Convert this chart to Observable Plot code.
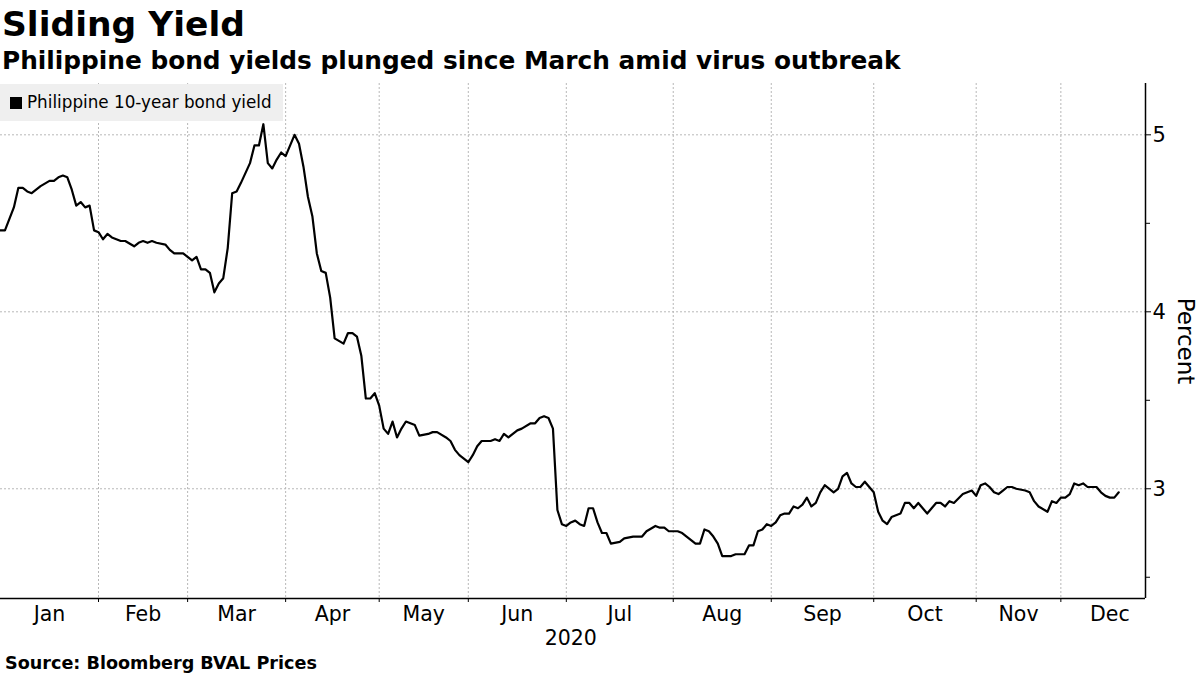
<!DOCTYPE html>
<html>
<head>
<meta charset="utf-8">
<script src="https://cdn.jsdelivr.net/npm/d3@7"></script>
<script src="https://cdn.jsdelivr.net/npm/@observablehq/plot@0.6"></script>
<style>
  html, body { margin: 0; padding: 0; background: #fff; }
  body { width: 1200px; height: 675px; position: relative; overflow: hidden;
         font-family: "DejaVu Sans", sans-serif; color: #000; }
  #title { position: absolute; left: 2px; top: 4px; font-size: 34.5px; font-weight: bold; line-height: 40px; white-space: nowrap; }
  #subtitle { position: absolute; left: 2px; top: 46px; font-size: 24.8px; font-weight: bold; line-height: 30px; white-space: nowrap; }
  #chart { position: absolute; left: 0; top: 78px; }
  #legend { position: absolute; left: 0; top: 84px; width: 283px; height: 37px; background: #efefef;
            font-size: 16.8px; line-height: 37px; white-space: nowrap; }
  #legend .sw { display: inline-block; width: 12px; height: 12px; background: #000; margin: 0 5px 0 10px; vertical-align: -1px; }
  #source { position: absolute; left: 5px; top: 652px; font-size: 17.6px; font-weight: bold; line-height: 22px; white-space: nowrap; }
</style>
</head>
<body>
<div id="title">Sliding Yield</div>
<div id="subtitle">Philippine bond yields plunged since March amid virus outbreak</div>
<div id="chart"></div>
<div id="legend"><span class="sw"></span>Philippine 10-year bond yield</div>
<div id="source">Source: Bloomberg BVAL Prices</div>
<script>
// Trading-session index (0 = first session of 2020) and yield in percent
const session = [0,1,3,4,5,6,7,8,9,11,12,13,14,15,16,17,18,19,20,21,22,23,24,25,26,27,28,30,31,32,33,34,35,37,38,39,41,
  42,43,44,45,46,47,48,49,50,51,52,53,54,56,57,58,59,60,61,62,63,64,66,67,68,69,70,71,72,73,74,75,77,78,79,80,81,82,83,84,
  85,86,87,88,89,90,91,93,94,96,97,98,100,101,102,103,105,106,107,108,110,111,112,113,114,116,117,119,120,121,122,123,124,
  125,126,127,128,129,130,131,132,133,134,135,136,137,139,140,142,144,145,147,148,149,150,152,153,154,155,156,157,158,159,
  160,161,162,164,165,167,168,169,170,171,172,173,174,175,176,177,178,179,180,181,182,183,184,185,187,188,189,190,191,192,
  193,194,195,196,197,198,199,200,201,202,203,204,205,206,207,208,209,210,211,212,213,214,216,217,218,219,220,221,222,223,
  224,225,226,227,228,230,231,232,233,235,236,237,238,239,240,241,242,243,244,245,246,247,248,249,250,251];
const yieldPct = [4.46,4.46,4.59,4.70,4.70,4.68,4.67,4.69,4.71,4.74,4.74,4.76,4.77,4.76,4.69,4.60,4.62,4.59,4.60,4.46,4.45,4.41,4.44,4.42,4.41,4.40,4.40,4.37,4.39,4.40,4.39,4.40,4.39,4.38,4.35,4.33,4.33,
  4.31,4.29,4.31,4.24,4.24,4.22,4.11,4.16,4.19,4.36,4.67,4.68,4.73,4.84,4.94,4.94,5.06,4.84,4.81,4.86,4.90,4.88,5.00,4.95,4.82,4.65,4.54,4.33,4.23,4.22,4.08,3.85,3.82,3.88,3.88,3.86,3.75,3.51,3.51,3.54,
  3.47,3.34,3.31,3.38,3.29,3.34,3.38,3.36,3.30,3.31,3.32,3.32,3.29,3.27,3.22,3.19,3.15,3.19,3.24,3.27,3.27,3.28,3.27,3.31,3.29,3.33,3.34,3.37,3.37,3.40,3.41,3.40,3.34,
  2.88,2.80,2.79,2.81,2.82,2.80,2.79,2.89,2.89,2.81,2.75,2.75,2.69,2.70,2.72,2.73,2.73,2.76,2.79,2.78,2.78,2.76,2.76,2.75,2.73,2.71,2.69,2.69,2.77,2.76,
  2.73,2.69,2.62,2.62,2.63,2.63,2.68,2.68,2.76,2.77,2.80,2.79,2.81,2.85,2.86,2.86,2.90,2.89,2.91,2.95,2.90,2.92,2.98,3.02,2.98,3.00,3.07,3.09,3.03,3.01,
  3.01,3.04,3.01,2.98,2.87,2.82,2.80,2.84,2.85,2.86,2.92,2.92,2.89,2.92,2.89,2.86,2.89,2.92,2.92,2.90,2.93,2.92,2.97,2.98,2.99,2.96,3.02,3.03,3.01,2.98,
  2.97,2.99,3.01,3.01,3.00,2.99,2.98,2.93,2.90,2.87,2.93,2.92,2.95,2.95,2.97,3.03,3.02,3.03,3.01,3.01,3.01,2.98,2.96,2.95,2.95,2.98];

// Axis definitions
const monthStarts = [22,42,64,85,105,127,151,173,196,219,238];
const monthMids = [11,32,53,74.5,95,116,139,162,184.5,207.5,228.5,249];
const monthNames = ["Jan","Feb","Mar","Apr","May","Jun","Jul","Aug","Sep","Oct","Nov","Dec"];
const yearLabel = "2020";
const yearPos = [128];
const xDomain = [0, 257];
const yDomain = [2.38, 5.29];
const yMajor = [3, 4, 5];
const yMinor = [2.5, 3.5, 4.5];
const yTitle = "Percent";

const data = session.map((s, i) => ({session: s, value: yieldPct[i]}));
const font = "'DejaVu Sans', sans-serif";
const blank = () => "";

const chart = Plot.plot({
  width: 1200,
  height: 572,
  marginTop: 5,
  marginBottom: 52,
  marginLeft: 0,
  marginRight: 55,
  style: {fontFamily: font, fontSize: "20px", color: "#000", background: "transparent"},
  x: {type: "linear", domain: xDomain, label: null},
  y: {type: "linear", domain: yDomain, label: null},
  marks: [
    Plot.gridX(monthStarts, {stroke: "#b8b8b8", strokeOpacity: 1, strokeDasharray: "2,2", strokeWidth: 1}),
    Plot.gridY(yMajor, {stroke: "#b8b8b8", strokeOpacity: 1, strokeDasharray: "2,2", strokeWidth: 1}),
    Plot.axisX(monthStarts, {tickSize: 4, tickFormat: blank, stroke: "#000", label: null}),
    Plot.axisX(monthMids, {tickSize: 0, tickPadding: 8, tickFormat: (d, i) => monthNames[i], fontSize: 20.5, label: null}),
    Plot.axisX(yearPos, {tickSize: 0, tickPadding: 32, tickFormat: () => yearLabel, fontSize: 20.5, label: null}),
    Plot.axisY(yMajor, {anchor: "right", tickSize: 5, tickPadding: 2, fontSize: 21, tickFormat: d3.format("d"), label: null}),
    Plot.axisY(yMinor, {anchor: "right", tickSize: 4, tickFormat: blank, label: null}),
    Plot.text([yTitle], {frameAnchor: "right", dx: 40, rotate: 90, fontSize: 23, textAnchor: "middle", text: d => d}),
    Plot.ruleY([yDomain[0]], {stroke: "#000", strokeWidth: 1.5}),
    Plot.ruleX([xDomain[1]], {stroke: "#000", strokeWidth: 1.5}),
    Plot.line(data, {x: "session", y: "value", stroke: "#000", strokeWidth: 2.2, curve: "linear"})
  ]
});
document.getElementById("chart").appendChild(chart);
</script>
</body>
</html>
